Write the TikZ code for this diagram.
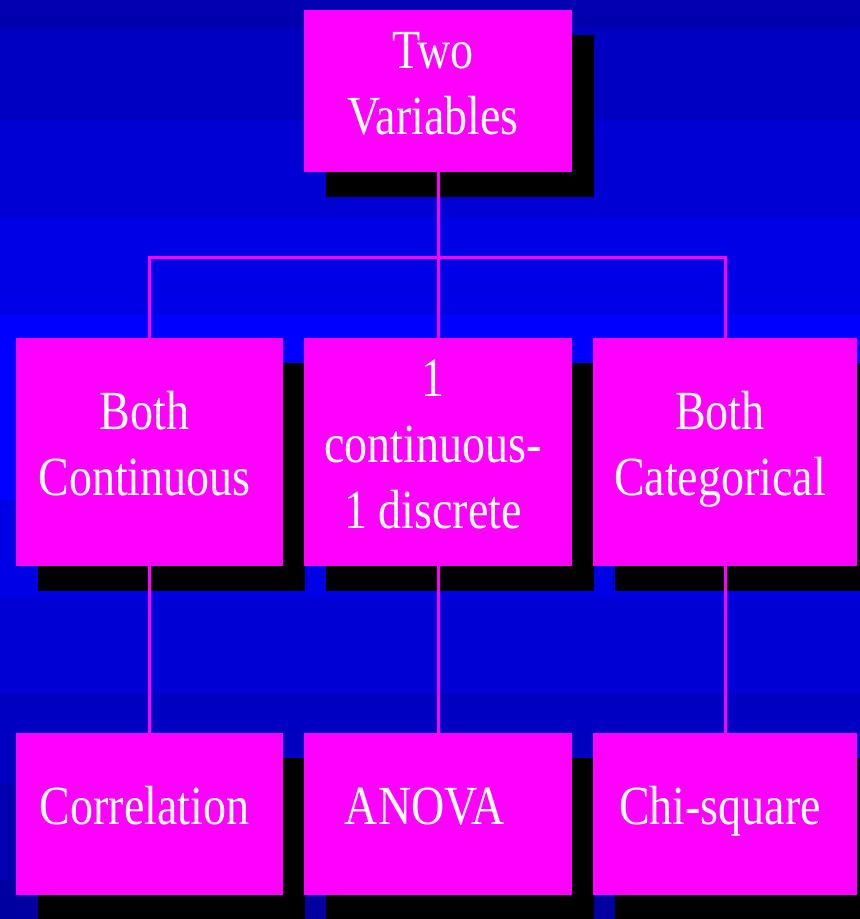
\documentclass[tikz,border=0pt]{standalone}
\usepackage{fontspec}
\setmainfont{Liberation Serif}
\usetikzlibrary{shadows}

\definecolor{boxmag}{RGB}{255,0,255}
\definecolor{bandA}{RGB}{0,0,255}
\definecolor{bandB}{RGB}{0,0,230}
\definecolor{bandC}{RGB}{0,0,212}
\definecolor{bandD}{RGB}{0,0,194}
\definecolor{bandE}{RGB}{0,0,176}
\definecolor{bandF}{RGB}{0,0,160}

% multi-line white caption, slightly stretched vertically
\newcommand{\boxcaption}[1]{\scalebox{1}[1.2]{\fontsize{46}{55}\selectfont
  \begin{tabular}{@{}c@{}}#1\end{tabular}}}

\tikzset{
  box/.style={rectangle, fill=boxmag, inner sep=0pt,
    drop shadow={shadow xshift=22pt, shadow yshift=-25pt, fill=black, opacity=1}},
  caption/.style={text=white, inner sep=0pt, yshift=3pt, xshift=-5pt},
  link/.style={draw=boxmag, line width=3pt},
}

\begin{document}
\begin{tikzpicture}[x=1pt, y=-1pt]
  \useasboundingbox (0,0) rectangle (860,919);

  % banded blue backdrop, brightest a little above the middle
  \fill[bandE] (0,0)   rectangle (860,30);
  \fill[bandD] (0,30)  rectangle (860,120);
  \fill[bandC] (0,120) rectangle (860,217);
  \fill[bandB] (0,217) rectangle (860,315);
  \fill[bandA] (0,315) rectangle (860,500);
  \fill[bandB] (0,500) rectangle (860,597);
  \fill[bandC] (0,597) rectangle (860,694);
  \fill[bandD] (0,694) rectangle (860,784);
  \fill[bandE] (0,784) rectangle (860,880);
  \fill[bandF] (0,880) rectangle (860,919);

  % root
  \node[box, minimum width=268pt, minimum height=162pt,
        label={[caption]center:\boxcaption{Two\\Variables}}] (root) at (438,91) {};

  % middle row
  \node[box, minimum width=267pt, minimum height=228pt,
        label={[caption]center:\boxcaption{Both\\Continuous}}] (cont) at (149.5,452) {};
  \node[box, minimum width=268pt, minimum height=228pt,
        label={[caption]center:\boxcaption{1\\continuous-\\1 discrete}}] (mixed) at (438,452) {};
  \node[box, minimum width=264pt, minimum height=228pt,
        label={[caption]center:\boxcaption{Both\\Categorical}}] (cat) at (725,452) {};

  % bottom row
  \node[box, minimum width=267pt, minimum height=162pt,
        label={[caption]center:\boxcaption{Correlation}}] (corr) at (149.5,814) {};
  \node[box, minimum width=268pt, minimum height=162pt,
        label={[caption, xshift=-8pt]center:\boxcaption{ANOVA}}] (anova) at (438,814) {};
  \node[box, minimum width=264pt, minimum height=162pt,
        label={[caption]center:\boxcaption{Chi-square}}] (chi) at (725,814) {};

  % connectors
  \coordinate (bus) at (0,257);
  \draw[link] (root.south) -- (mixed.north);
  \draw[link] (cont.north) -- (cont.north |- bus) -- (cat.north |- bus) -- (cat.north);
  \draw[link] (cont.south) -- (corr.north);
  \draw[link] (mixed.south) -- (anova.north);
  \draw[link] (cat.south) -- (chi.north);
\end{tikzpicture}
\end{document}
